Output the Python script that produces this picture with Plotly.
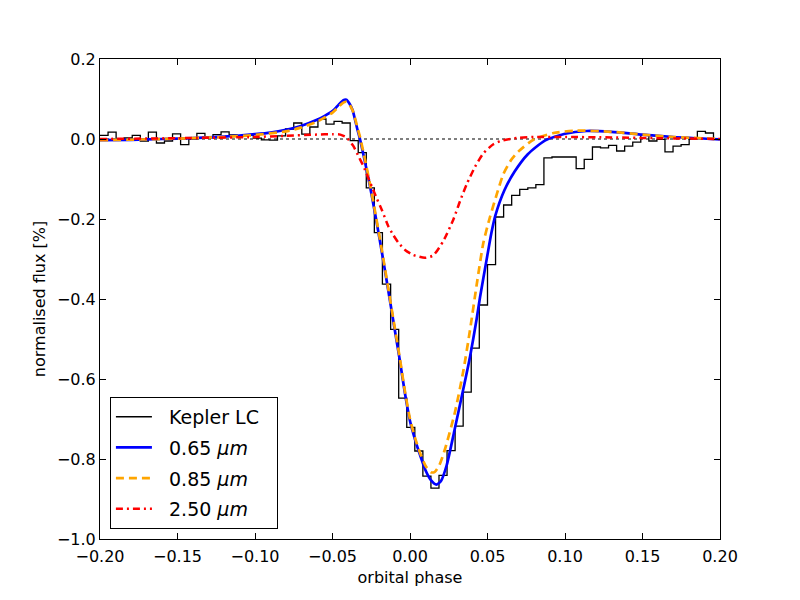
import plotly.graph_objects as go

# Kepler LC binned light curve: bin edges (phase) and flux per bin [%]
kepler_edges = [
    -0.2000, -0.1948, -0.1896, -0.1844, -0.1792, -0.1740, -0.1688, -0.1636,
    -0.1584, -0.1532, -0.1480, -0.1427, -0.1375, -0.1323, -0.1271, -0.1219,
    -0.1167, -0.1115, -0.1063, -0.1011, -0.0959, -0.0907, -0.0855, -0.0803,
    -0.0750, -0.0698, -0.0646, -0.0594, -0.0542, -0.0490, -0.0438, -0.0386,
    -0.0334, -0.0282, -0.0230, -0.0178, -0.0125, -0.0073, -0.0021, 0.0031,
    0.0083, 0.0135, 0.0187, 0.0239, 0.0291, 0.0343, 0.0395, 0.0447,
    0.0500, 0.0552, 0.0604, 0.0656, 0.0708, 0.0760, 0.0812, 0.0864,
    0.0916, 0.0968, 0.1020, 0.1072, 0.1124, 0.1177, 0.1229, 0.1281,
    0.1333, 0.1385, 0.1437, 0.1489, 0.1541, 0.1593, 0.1645, 0.1697,
    0.1749, 0.1801, 0.1854, 0.1906, 0.1958, 0.2010,
]
kepler_flux = [
    0.009, 0.017, 0.000, 0.003, 0.009, -0.005, 0.017, -0.010,
    -0.005, 0.013, -0.014, 0.000, 0.014, 0.003, 0.011, 0.018,
    0.010, 0.008, 0.010, 0.002, -0.002, -0.003, 0.008, 0.025,
    0.040, 0.012, 0.030, 0.050, 0.037, 0.044, 0.040, -0.004,
    -0.034, -0.122, -0.234, -0.363, -0.476, -0.648, -0.721, -0.780,
    -0.843, -0.873, -0.841, -0.779, -0.718, -0.633, -0.523, -0.415,
    -0.314, -0.195, -0.165, -0.141, -0.126, -0.122, -0.114, -0.047,
    -0.045, -0.045, -0.045, -0.074, -0.051, -0.020, -0.022, -0.016,
    -0.030, -0.018, -0.008, 0.011, -0.005, -0.001, -0.032, -0.018,
    -0.014, 0.000, 0.019, 0.015, 0.000,
]

# 0.65 micron model
blue_phase = [-0.200, -0.180, -0.160, -0.140, -0.120, -0.100, -0.090, -0.080,
              -0.070, -0.060, -0.055, -0.050, -0.046, -0.043, -0.041, -0.039,
              -0.037, -0.0355, -0.034, -0.0323, -0.029, -0.0258, -0.0226,
              -0.0194, -0.0161, -0.0129, -0.0097, -0.0065, -0.0033, 0.0000,
              0.0033, 0.0065, 0.0100, 0.0135, 0.0170, 0.0200, 0.0237, 0.0286,
              0.0344, 0.0387, 0.0430, 0.0452, 0.0495, 0.0525, 0.0550, 0.0609,
              0.0674, 0.0760, 0.0870, 0.1000, 0.1140, 0.1300, 0.1500, 0.1700,
              0.2000]
blue_flux = [-0.003, -0.002, 0.000, 0.002, 0.006, 0.012, 0.016, 0.023,
             0.033, 0.048, 0.058, 0.070, 0.086, 0.097, 0.098, 0.088,
             0.072, 0.049, 0.025, 0.000, -0.058, -0.118, -0.185,
             -0.255, -0.330, -0.405, -0.480, -0.555, -0.635, -0.705,
             -0.752, -0.790, -0.828, -0.853, -0.864, -0.855, -0.815, -0.730,
             -0.625, -0.545, -0.450, -0.395, -0.300, -0.235, -0.192, -0.128,
             -0.082, -0.038, -0.004, 0.013, 0.020, 0.018, 0.011, 0.005,
             -0.001]

# 0.85 micron model
orange_phase = [-0.200, -0.160, -0.120, -0.100, -0.080, -0.070, -0.060, -0.055,
                -0.050, -0.046, -0.043, -0.041, -0.039, -0.037, -0.0355, -0.034,
                -0.0323, -0.029, -0.0258, -0.0226, -0.0194, -0.0161, -0.0129,
                -0.0097, -0.0065, -0.0033, 0.0000, 0.0033, 0.0065, 0.0100,
                0.0135, 0.0160, 0.0190, 0.0226, 0.0290, 0.0344, 0.0387, 0.0430,
                0.0473, 0.0516, 0.0560, 0.0602, 0.0650, 0.0700, 0.0796, 0.0925,
                0.1075, 0.1300, 0.1500, 0.1700, 0.2000]
orange_flux = [-0.003, 0.000, 0.005, 0.010, 0.019, 0.029, 0.043, 0.054,
               0.066, 0.081, 0.091, 0.093, 0.086, 0.071, 0.052, 0.030,
               0.006, -0.052, -0.113, -0.180, -0.250, -0.325, -0.400,
               -0.475, -0.550, -0.630, -0.700, -0.748, -0.785, -0.817,
               -0.833, -0.832, -0.815, -0.775, -0.683, -0.580, -0.478, -0.365,
               -0.260, -0.195, -0.138, -0.088, -0.054, -0.031, -0.002, 0.015,
               0.021, 0.018, 0.011, 0.005, 0.000]

# 2.50 micron model
red_phase = [-0.200, -0.150, -0.100, -0.080, -0.060, -0.050, -0.045, -0.041,
             -0.0365, -0.033, -0.030, -0.0275, -0.0247, -0.0215, -0.0183,
             -0.014, -0.0108, -0.0075, -0.003, 0.0022, 0.0097, 0.0150, 0.0215,
             0.0280, 0.0323, 0.0366, 0.0419, 0.0473, 0.0538, 0.0602, 0.0700,
             0.0800, 0.1000, 0.1300, 0.1600, 0.2000]
red_flux = [0.000, 0.002, 0.005, 0.008, 0.011, 0.012, 0.011, 0.004,
            -0.018, -0.045, -0.068, -0.092, -0.118, -0.148, -0.176,
            -0.218, -0.240, -0.259, -0.278, -0.290, -0.297, -0.291, -0.255,
            -0.201, -0.155, -0.113, -0.070, -0.036, -0.013, -0.003, 0.003,
            0.005, 0.005, 0.004, 0.002, 0.000]

x_tickvals = [-0.20, -0.15, -0.10, -0.05, 0.00, 0.05, 0.10, 0.15, 0.20]
x_ticktext = ["\u22120.20", "\u22120.15", "\u22120.10", "\u22120.05", "0.00",
              "0.05", "0.10", "0.15", "0.20"]
y_tickvals = [-1.0, -0.8, -0.6, -0.4, -0.2, 0.0, 0.2]
y_ticktext = ["\u22121.0", "\u22120.8", "\u22120.6", "\u22120.4", "\u22120.2", "0.0", "0.2"]

series_names = ["Kepler LC", "0.65 <i>μm</i>", "0.85 <i>μm</i>", "2.50 <i>μm</i>"]

FONT = "DejaVu Sans"
PAD_L = "\u00a0\u00a0"
PAD_R = "\u00a0\u00a0"

fig = go.Figure()

fig.add_trace(go.Scatter(
    x=kepler_edges, y=kepler_flux + [kepler_flux[-1]],
    mode="lines", line=dict(color="black", width=1.3, shape="hv"),
    name=PAD_L + series_names[0] + PAD_R, legendgroup="a"))
fig.add_trace(go.Scatter(
    x=blue_phase, y=blue_flux, mode="lines",
    line=dict(color="#0000ff", width=2.7, shape="spline", smoothing=0.6),
    name=PAD_L + series_names[1], legendgroup="b"))
fig.add_trace(go.Scatter(
    x=orange_phase, y=orange_flux, mode="lines",
    line=dict(color="#ffa500", width=2.7, dash="8px,5px", shape="spline", smoothing=0.6),
    name=PAD_L + series_names[2], legendgroup="c"))
fig.add_trace(go.Scatter(
    x=red_phase, y=red_flux, mode="lines",
    line=dict(color="#ff0000", width=2.5, dash="7px,4px,2px,4px", shape="spline", smoothing=0.6),
    name=PAD_L + series_names[3], legendgroup="d"))

fig.add_shape(type="line", xref="x", yref="y", x0=-0.2, x1=0.2, y0=0, y1=0,
              line=dict(color="black", width=1.2, dash="dot"), layer="below")

axis_common = dict(
    showline=True, linecolor="black", linewidth=1, mirror="ticks",
    ticks="inside", ticklen=6, tickwidth=1, tickcolor="black",
    showgrid=False, zeroline=False,
    tickfont=dict(family=FONT, size=16, color="black"),
)

fig.update_xaxes(range=[-0.2, 0.2], tickvals=x_tickvals, ticktext=x_ticktext,
                 ticklabelstandoff=3,
                 title=dict(text="orbital phase", font=dict(family=FONT, size=16, color="black"), standoff=6),
                 **axis_common)
fig.update_yaxes(range=[-1.0, 0.2], tickvals=y_tickvals, ticktext=y_ticktext,
                 title=dict(text="normalised flux [%]", font=dict(family=FONT, size=16, color="black"), standoff=7),
                 **axis_common)

fig.update_layout(
    width=800, height=600,
    margin=dict(l=92, r=88, t=51, b=69),
    paper_bgcolor="white", plot_bgcolor="white",
    font=dict(family=FONT, size=16, color="black"),
    legend=dict(x=0.016, y=0.021, xanchor="left", yanchor="bottom",
                bgcolor="white", bordercolor="black", borderwidth=1,
                font=dict(family=FONT, size=19, color="black"),
                traceorder="grouped", tracegroupgap=3, itemwidth=36),
    showlegend=True,
)

fig.write_html("out.html")
